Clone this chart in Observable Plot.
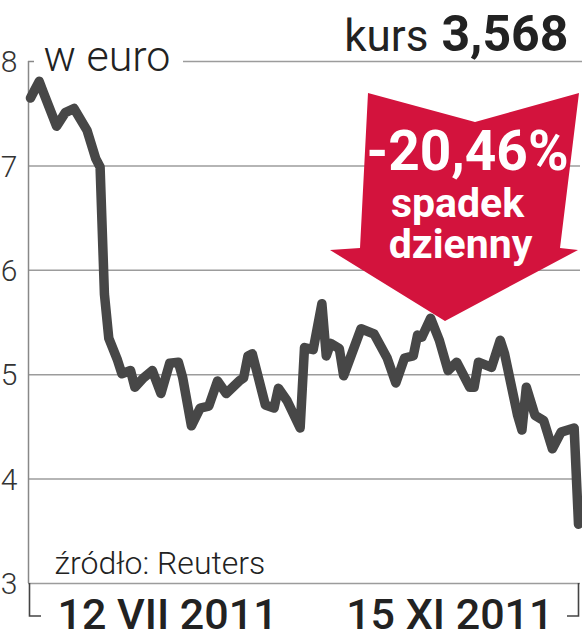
<!DOCTYPE html>
<html><head><meta charset="utf-8">
<script src="https://cdn.jsdelivr.net/npm/d3@7"></script>
<script src="https://cdn.jsdelivr.net/npm/@observablehq/plot@0.6"></script>
<style>
html,body{margin:0;padding:0;background:#fff;}
#chart svg{display:block;}
</style>
</head><body><div id="chart"></div>
<script>
// ---- data ----
const dates = [
  "2011-07-12","2011-07-14","2011-07-15","2011-07-18","2011-07-20","2011-07-22","2011-07-25","2011-07-27",
  "2011-07-28","2011-07-29","2011-07-30","2011-08-01","2011-08-02","2011-08-04","2011-08-05","2011-08-07",
  "2011-08-09","2011-08-11","2011-08-13","2011-08-15","2011-08-16","2011-08-18","2011-08-20","2011-08-22",
  "2011-08-24","2011-08-26","2011-08-29","2011-08-30","2011-08-31","2011-09-01","2011-09-04","2011-09-06",
  "2011-09-07","2011-09-09","2011-09-12","2011-09-13","2011-09-15","2011-09-17","2011-09-18","2011-09-19",
  "2011-09-21","2011-09-22","2011-09-26","2011-09-29","2011-10-02","2011-10-04","2011-10-06","2011-10-08",
  "2011-10-09","2011-10-10","2011-10-12","2011-10-14","2011-10-16","2011-10-18","2011-10-21","2011-10-22",
  "2011-10-23","2011-10-26","2011-10-28","2011-10-29","2011-11-01","2011-11-02","2011-11-03","2011-11-05",
  "2011-11-07","2011-11-09","2011-11-11","2011-11-14","2011-11-15"
];
const values = [
  7.65,7.81,7.70,7.38,7.51,7.55,7.34,7.07,
  6.99,5.77,5.35,5.14,5.01,5.04,4.88,4.97,
  5.04,4.82,5.11,5.12,4.97,4.51,4.68,4.70,
  4.94,4.82,4.94,4.97,5.18,5.20,4.71,4.68,
  4.87,4.75,4.49,5.26,5.24,5.68,5.18,5.30,
  5.25,4.99,5.44,5.39,5.16,4.92,5.16,5.18,
  5.38,5.36,5.54,5.33,5.04,5.12,4.88,4.88,
  5.12,5.07,5.33,5.20,4.61,4.47,4.88,4.61,
  4.56,4.29,4.45,4.49,3.568
];
const yTicks = [3,4,5,6,7,8];
const gridValues = [4,5,6,7];
const xLabels = ["12 VII 2011","15 XI 2011"];
const unitLabel = "w euro";
const priceLabel = "kurs";
const priceValue = "3,568";
const changeLines = ["-20,46%","spadek","dzienny"];
const sourceLabel = "źródło: Reuters";

// ---- build ----
const parse = d3.utcParse("%Y-%m-%d");
const data = dates.map((d,i)=>({date: parse(d), value: values[i]}));
const start = data[0].date, end = data[data.length-1].date;

const GRID = "#9c9c9c", INK = "#222", LINE = "#474747", RED = "#d3133d";
const FONT = "Roboto, 'Open Sans', sans-serif";

function arrowMark(index, scales, values, dims) {
  const g = d3.create("svg:g");
  // arrow shape in pixel offsets relative to frame top-right corner
  const ox = dims.width - dims.marginRight, oy = dims.marginTop;
  const shape = [[-212,32],[-105,61],[-1,32],[-20,187],[-2,189],[-135,260],[-250,189],[-220,187]];
  g.append("polygon")
    .attr("points", shape.map(([dx,dy]) => `${ox+dx},${oy+dy}`).join(" "))
    .attr("fill", RED);
  // bottom brackets
  const x0 = scales.x(start), x1 = scales.x(end), yb = dims.height - dims.marginBottom;
  g.append("path")
    .attr("d", `M${x0-0.5},${yb}V${yb+33}H${x0+11} M${x1+0.5},${yb}V${yb+33}H${x1-11}`)
    .attr("fill","none").attr("stroke","#444").attr("stroke-width",1.6);
  return g.node();
}

const plot = Plot.plot({
  width: 582, height: 640,
  marginTop: 61, marginBottom: 57, marginLeft: 28, marginRight: 2,
  insetLeft: 2, insetRight: 2,
  x: {type: "utc", domain: [start, end], axis: null},
  y: {domain: [3, 8], axis: null},
  style: {fontFamily: FONT, background: "#fff", overflow: "visible"},
  marks: [
    Plot.ruleY(gridValues, {stroke: GRID, strokeWidth: 1.5}),
    Plot.ruleY([3], {stroke: GRID, strokeWidth: 1.5}),
    Plot.ruleY([8], {stroke: GRID, strokeWidth: 1.5, insetLeft: 155, insetRight: -2}),
    Plot.ruleY([8], {stroke: "#888", strokeWidth: 1.5, insetRight: 546}),
    Plot.ruleX([start], {stroke: "#888", strokeWidth: 1.5, dx: -2}),
    Plot.text(yTicks, {y: d => d, text: d => String(d), frameAnchor: "left", textAnchor: "end", dx: -11, dy: 1,
      fontSize: 30, fontWeight: 300, fill: "#333"}),
    Plot.line(data, {x: "date", y: "value", stroke: LINE, strokeWidth: 9.5,
      strokeLinejoin: "round", strokeLinecap: "round"}),
    arrowMark,
    Plot.text([changeLines[0]], {text: d => d, frameAnchor: "top-right", textAnchor: "middle", lineAnchor: "bottom",
      dx: -113, dy: 108, fontSize: 55, fontWeight: 700, fill: "#fff"}),
    Plot.text([changeLines[1]], {text: d => d, frameAnchor: "top-right", textAnchor: "middle", lineAnchor: "bottom",
      dx: -123, dy: 155, fontSize: 41, fontWeight: 700, fill: "#fff"}),
    Plot.text([changeLines[2]], {text: d => d, frameAnchor: "top-right", textAnchor: "middle", lineAnchor: "bottom",
      dx: -120, dy: 196, fontSize: 41, fontWeight: 700, fill: "#fff"}),
    Plot.text([unitLabel], {text: d => d, frameAnchor: "top-left", textAnchor: "start", lineAnchor: "bottom",
      dx: 15, dy: 9, fontSize: 43, fontWeight: 300, fill: INK}),
    Plot.text([priceLabel], {text: d => d, frameAnchor: "top-right", textAnchor: "end", lineAnchor: "bottom",
      dx: -152, dy: -11, fontSize: 44, fontWeight: 400, fill: INK}),
    Plot.text([priceValue], {text: d => d, frameAnchor: "top-right", textAnchor: "end", lineAnchor: "bottom",
      dx: -12, dy: -11, fontSize: 50, fontWeight: 700, fill: INK}),
    Plot.text([sourceLabel], {x: () => start, text: d => d, frameAnchor: "bottom", textAnchor: "start", lineAnchor: "bottom",
      dx: 24, dy: -10, fontSize: 32, fontWeight: 300, fill: INK}),
    Plot.text([xLabels[0]], {x: () => start, text: d => d, frameAnchor: "bottom", textAnchor: "start", lineAnchor: "bottom",
      dx: 27, dy: 45, fontSize: 43, fontWeight: 500, fill: INK}),
    Plot.text([xLabels[1]], {x: () => end, text: d => d, frameAnchor: "bottom", textAnchor: "end", lineAnchor: "bottom",
      dx: -25, dy: 45, fontSize: 43, fontWeight: 500, fill: INK})
  ]
});
document.getElementById("chart").appendChild(plot);
</script>
</body></html>
